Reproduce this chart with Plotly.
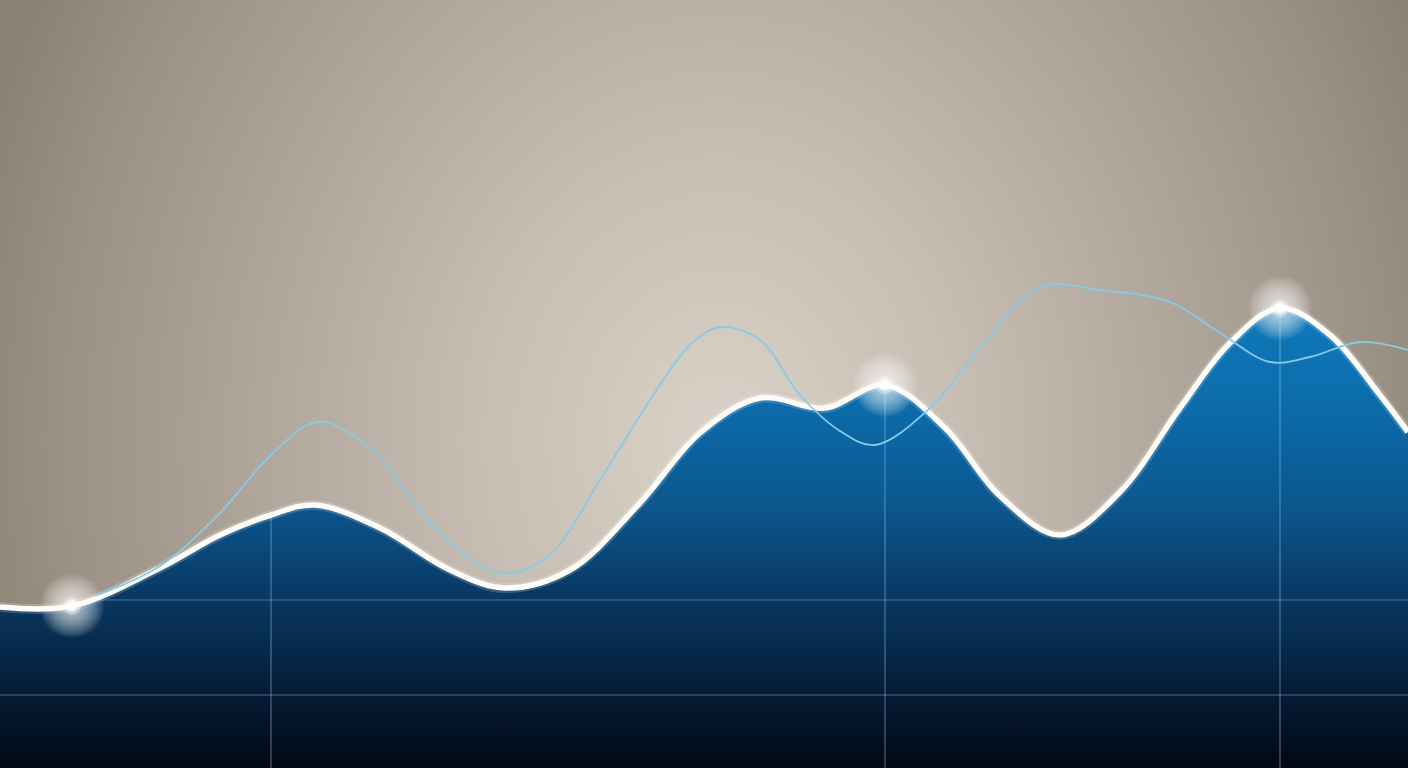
import base64
import plotly.graph_objects as go

# main series (white line, filled area)
main_x = [0, 0.72, 1.6, 2.2, 2.71, 3.15, 3.8, 4.5, 5.05, 5.7, 6.4, 7.0, 7.6, 8.25, 8.85,
          9.45, 10.0, 10.6, 11.2, 11.8, 12.3, 12.8, 13.3, 13.8, 14.08]
main_y = [1.61, 1.62, 2.00, 2.33, 2.53, 2.63, 2.40, 1.98, 1.80, 1.98, 2.65, 3.35, 3.70, 3.60, 3.83,
          3.40, 2.72, 2.33, 2.76, 3.60, 4.25, 4.60, 4.33, 3.73, 3.36]

# second series (thin light blue line)
second_x = [0.95, 1.6, 2.2, 2.71, 3.18, 3.7, 4.3, 4.8, 5.1, 5.5, 6.0, 6.5, 6.9, 7.2, 7.6,
            8.0, 8.4, 8.75, 9.3, 9.8, 10.4, 11.0, 11.7, 12.2, 12.7, 13.1, 13.6, 14.08]
second_y = [1.72, 2.02, 2.55, 3.13, 3.46, 3.20, 2.45, 2.02, 1.95, 2.13, 2.88, 3.68, 4.23, 4.41, 4.28,
            3.73, 3.37, 3.23, 3.60, 4.20, 4.81, 4.78, 4.66, 4.35, 4.06, 4.11, 4.26, 4.18]

# highlighted points (glows) and grid
glow_x = [0.72, 8.85, 12.8]
vgrid_x = [2.71, 8.85, 12.8]
hgrid_y = [1.68, 0.73]
hgrid_x0 = [0.95, 0]

X_MAX, Y_MAX = 14.08, 7.68
SMOOTH = 1.0

bg_svg = """<svg xmlns='http://www.w3.org/2000/svg' width='1408' height='768' viewBox='0 0 1408 768'>
<defs><radialGradient id='g' gradientUnits='userSpaceOnUse' cx='720' cy='440' r='780'
gradientTransform='translate(720 440) scale(1 1.2) translate(-720 -440)'>
<stop offset='0' stop-color='#dad2c8'/>
<stop offset='0.3' stop-color='#c8beb3'/>
<stop offset='0.6' stop-color='#b0a59a'/>
<stop offset='0.85' stop-color='#9b9084'/>
<stop offset='1' stop-color='#8b8074'/>
</radialGradient></defs>
<rect width='1408' height='768' fill='url(#g)'/></svg>"""
bg_uri = "data:image/svg+xml;base64," + base64.b64encode(bg_svg.encode()).decode()

fig = go.Figure()

fig.add_trace(go.Scatter(
    x=main_x, y=main_y, mode="lines", line=dict(width=0, shape="spline", smoothing=SMOOTH),
    fill="tozeroy",
    fillgradient=dict(type="vertical", start=0, stop=4.6,
                      colorscale=[[0, "#020913"], [0.15, "#051a33"], [0.37, "#093862"],
                                  [0.58, "#0b5890"], [0.8, "#0c6dac"], [1, "#107abb"]]),
    hoverinfo="skip"))

# grid lines, only inside the filled area
for gx in vgrid_x:
    top = main_y[main_x.index(gx)]
    fig.add_trace(go.Scatter(x=[gx, gx], y=[0, top], mode="lines",
                             line=dict(color="rgba(150,200,235,0.55)", width=1),
                             hoverinfo="skip"))
for gy, gx0 in zip(hgrid_y, hgrid_x0):
    fig.add_trace(go.Scatter(x=[gx0, X_MAX], y=[gy, gy], mode="lines",
                             line=dict(color="rgba(150,200,235,0.45)", width=1),
                             hoverinfo="skip"))

# white line
fig.add_trace(go.Scatter(x=main_x, y=main_y, mode="lines",
                         line=dict(color="rgba(255,255,255,0.18)", width=10, shape="spline",
                                   smoothing=SMOOTH),
                         hoverinfo="skip"))
fig.add_trace(go.Scatter(x=main_x, y=main_y, mode="lines",
                         line=dict(color="#fdfcf8", width=5.5, shape="spline", smoothing=SMOOTH),
                         hoverinfo="skip"))

fig.add_trace(go.Scatter(x=second_x, y=second_y, mode="lines",
                         line=dict(color="#86cbe7", width=1.8, shape="spline", smoothing=SMOOTH),
                         hoverinfo="skip"))

# glows
glow_y = [main_y[main_x.index(gx)] for gx in glow_x]
for size in range(64, 8, -3):
    fig.add_trace(go.Scatter(x=glow_x, y=glow_y, mode="markers",
                             marker=dict(size=size, color="white", opacity=0.06,
                                         line=dict(width=0)),
                             hoverinfo="skip"))
for size, op in [(18, 0.35), (12, 0.6), (8, 1.0)]:
    fig.add_trace(go.Scatter(x=glow_x, y=glow_y, mode="markers",
                             marker=dict(size=size, color="white", opacity=op, line=dict(width=0)),
                             hoverinfo="skip"))

fig.update_layout(
    width=1408, height=768,
    margin=dict(l=0, r=0, t=0, b=0),
    showlegend=False,
    paper_bgcolor="#a89c90",
    plot_bgcolor="rgba(0,0,0,0)",
    images=[dict(source=bg_uri, xref="paper", yref="paper", x=0, y=1,
                 sizex=1, sizey=1, sizing="stretch", layer="below")],
    xaxis=dict(range=[0, X_MAX], visible=False, fixedrange=True),
    yaxis=dict(range=[0, Y_MAX], visible=False, fixedrange=True),
)

fig.write_html("out.html", config={"displayModeBar": False},
               post_script="document.body.style.margin='0';")
